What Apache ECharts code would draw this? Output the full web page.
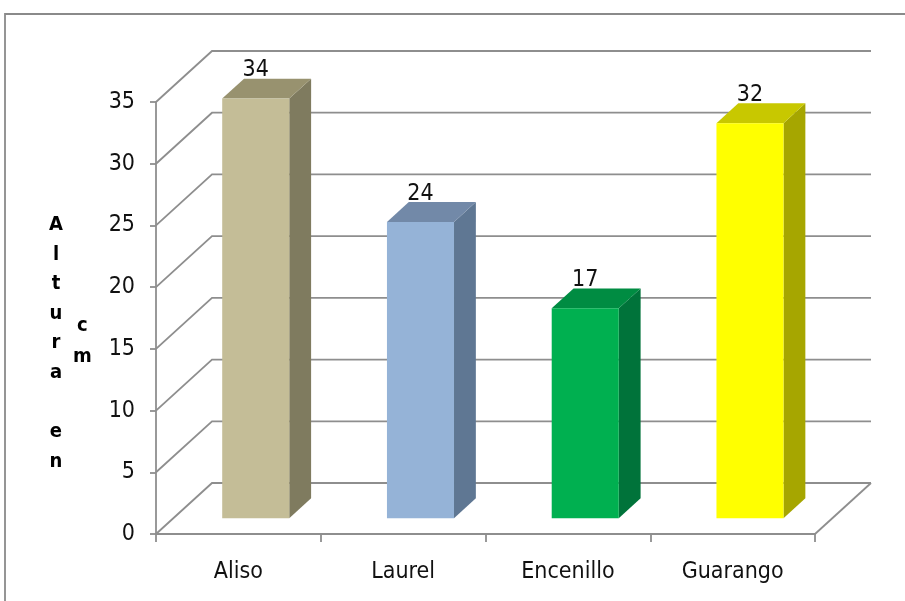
<!DOCTYPE html>
<html>
<head>
<meta charset="utf-8">
<script src="https://cdn.jsdelivr.net/npm/echarts@6/dist/echarts.min.js"></script>
<style>
  html, body { margin: 0; padding: 0; background: #fff; }
  #chart { width: 905px; height: 601px; }
</style>
</head>
<body>
<div id="chart"></div>
<script>
// Tree species and their measured height (cm)
const categories = ['Aliso', 'Laurel', 'Encenillo', 'Guarango'];
const heights = [34, 24, 17, 32];
const yTicks = [0, 5, 10, 15, 20, 25, 30, 35];

// Face colours per bar: front, right side, top
const frontColors = ['#C4BD97', '#95B3D7', '#00B050', '#FFFF00'];
const sideColors  = ['#7F7B5F', '#5F7793', '#00733A', '#A6A600'];
const topColors   = ['#98926F', '#7289A8', '#008C42', '#C8C800'];

// Oblique projection of the floor depth
const DEPTH_DX = 56, DEPTH_DY = -51;
const BAR_FRONT = 0.31, BAR_BACK = 0.70, BAR_RATIO = 0.407;

const FONT = '"Liberation Sans Narrow", "DejaVu Sans Condensed", sans-serif';
const GRID_COLOR = '#8e8e8e';

const chart = echarts.init(document.getElementById('chart'), null, { renderer: 'canvas' });

function renderWall(params, api) {
  const cs = params.coordSys;
  const v = api.value(1);
  const y = api.coord([0, v])[1];
  const children = [{
    type: 'polyline',
    shape: { points: [[cs.x, y], [cs.x + DEPTH_DX, y + DEPTH_DY], [cs.x + cs.width + DEPTH_DX, y + DEPTH_DY]] },
    style: { stroke: GRID_COLOR, lineWidth: 1.8, fill: null }
  }];
  if (v === 0) {
    children.push({
      type: 'line',
      shape: { x1: cs.x + cs.width, y1: y, x2: cs.x + cs.width + DEPTH_DX, y2: y + DEPTH_DY },
      style: { stroke: GRID_COLOR, lineWidth: 1.8 }
    });
  }
  return { type: 'group', children };
}

function renderBar(params, api) {
  const i = api.value(0);
  const v = api.value(1);
  const base = api.coord([i, 0]);
  const top = api.coord([i, v]);
  const w = api.size([1, 0])[0] * BAR_RATIO;
  const fx = base[0] + DEPTH_DX * BAR_FRONT - w / 2;
  const fy0 = base[1] + DEPTH_DY * BAR_FRONT;
  const fy1 = top[1] + DEPTH_DY * BAR_FRONT;
  const bx = DEPTH_DX * (BAR_BACK - BAR_FRONT);
  const by = DEPTH_DY * (BAR_BACK - BAR_FRONT);
  return {
    type: 'group',
    children: [
      { type: 'polygon',
        shape: { points: [[fx + w, fy1], [fx + w + bx, fy1 + by], [fx + w + bx, fy0 + by], [fx + w, fy0]] },
        style: { fill: sideColors[i] } },
      { type: 'polygon',
        shape: { points: [[fx, fy1], [fx + bx, fy1 + by], [fx + w + bx, fy1 + by], [fx + w, fy1]] },
        style: { fill: topColors[i] } },
      { type: 'rect',
        shape: { x: fx, y: fy1, width: w, height: fy0 - fy1 },
        style: { fill: frontColors[i] } },
      { type: 'text',
        x: fx + w / 2, y: fy1 + by + 3,
        style: { text: String(v), fill: '#111', font: '23px ' + FONT, textAlign: 'center', textVerticalAlign: 'bottom' } }
    ]
  };
}

chart.setOption({
  animation: false,
  backgroundColor: '#fff',
  grid: { left: 156, right: 90, top: 102, bottom: 67, containLabel: false },
  xAxis: {
    type: 'category',
    data: categories,
    boundaryGap: true,
    axisLine: { lineStyle: { color: GRID_COLOR, width: 1.8 } },
    axisTick: { show: true, length: 8, lineStyle: { color: GRID_COLOR, width: 1.8 } },
    axisLabel: { color: '#111', fontSize: 23, fontFamily: FONT, margin: 27 },
    splitLine: { show: false }
  },
  yAxis: {
    type: 'value',
    min: 0, max: 35, interval: 5,
    axisLine: { show: true, lineStyle: { color: GRID_COLOR, width: 1.8 } },
    axisTick: { show: true, length: 6, lineStyle: { color: GRID_COLOR, width: 1.8 } },
    axisLabel: { color: '#111', fontSize: 23, fontFamily: FONT, margin: 21 },
    splitLine: { show: false }
  },
  graphic: [
    { type: 'rect', silent: true, z: -1,
      shape: { x: 5, y: 14, width: 1000, height: 1000 },
      style: { fill: null, stroke: '#8a8a8a', lineWidth: 1.8 } },
    { type: 'text', left: 49, top: 210,
      style: { text: 'A\nl\nt\nu\nr\na\n\ne\nn', fill: '#000', font: 'bold 20px ' + FONT, lineHeight: 29.6, textAlign: 'center' } },
    { type: 'text', left: 73, top: 310,
      style: { text: 'c\nm', fill: '#000', font: 'bold 20px ' + FONT, lineHeight: 31, textAlign: 'center' } }
  ],
  series: [
    { type: 'custom', z: 1, renderItem: renderWall,
      encode: { x: 0, y: 1 },
      data: yTicks.map(v => [0, v]) },
    { type: 'custom', z: 2, renderItem: renderBar,
      encode: { x: 0, y: 1 },
      data: heights.map((h, i) => [i, h]) }
  ]
});
</script>
</body>
</html>
